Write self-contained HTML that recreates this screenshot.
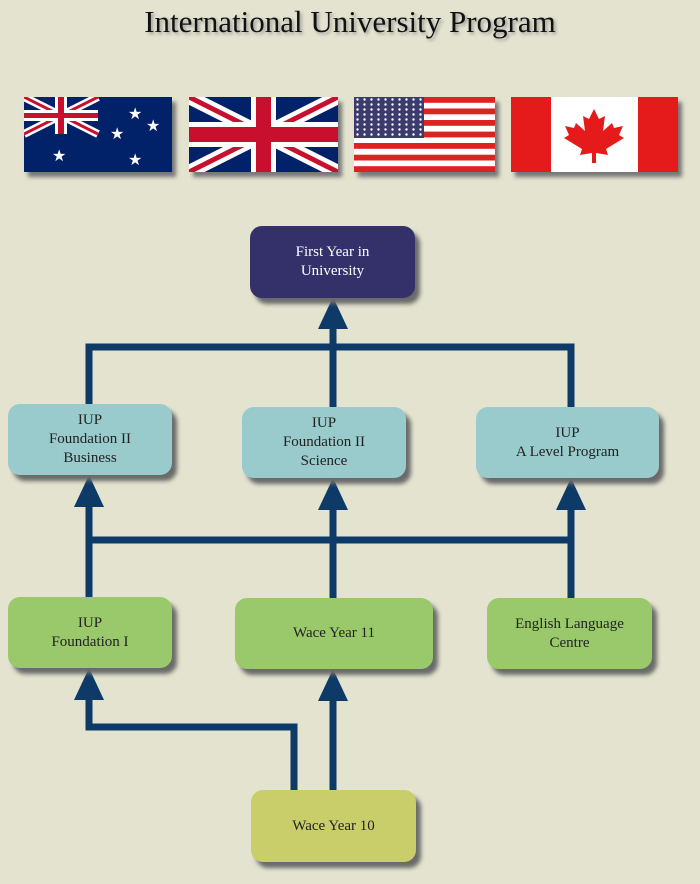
<!DOCTYPE html>
<html><head><style>
body{margin:0;width:700px;height:884px;background:#e3e3cf;overflow:hidden;position:relative;font-family:"Liberation Serif",serif;}
.t{position:absolute;left:0;width:700px;top:4px;text-align:center;font-size:31px;color:#111;text-shadow:2px 2px 3px #999;}
.b{position:absolute;border-radius:12px;display:flex;align-items:center;justify-content:center;text-align:center;font-size:15px;line-height:19px;color:#222;box-shadow:5px 6px 4px #6a6a6a;}
.f{position:absolute;top:97px;height:75px;box-shadow:4px 5px 4px #777;overflow:hidden;}
</style></head><body>
<div class="t">International University Program</div>
<svg class="f" style="left:24px;width:148px" viewBox="0 0 148 75"><rect width="148" height="75" fill="#012169"/>
<g stroke="#fff" stroke-width="8"><line x1="0" y1="0" x2="74" y2="37"/><line x1="74" y1="0" x2="0" y2="37"/></g>
<g stroke="#c8102e" stroke-width="3"><line x1="0" y1="0" x2="74" y2="37"/><line x1="74" y1="0" x2="0" y2="37"/></g>
<rect x="31" y="0" width="12" height="37" fill="#fff"/><rect x="0" y="13" width="74" height="11" fill="#fff"/>
<rect x="34" y="0" width="6" height="37" fill="#c8102e"/><rect x="0" y="16" width="74" height="5" fill="#c8102e"/>
<g fill="#fff" font-size="16"><text x="28" y="64">★</text><text x="104" y="68">★</text><text x="86" y="42">★</text><text x="104" y="22">★</text><text x="122" y="34">★</text></g></svg>
<svg class="f" style="left:189px;width:149px" viewBox="0 0 149 75"><rect width="149" height="75" fill="#012169"/>
<g stroke="#fff" stroke-width="14"><line x1="0" y1="0" x2="149" y2="75"/><line x1="149" y1="0" x2="0" y2="75"/></g>
<g stroke="#c8102e" stroke-width="5"><line x1="0" y1="0" x2="149" y2="75"/><line x1="149" y1="0" x2="0" y2="75"/></g>
<rect x="62" width="25" height="75" fill="#fff"/><rect y="25" width="149" height="25" fill="#fff"/>
<rect x="67" width="15" height="75" fill="#c8102e"/><rect y="30" width="149" height="15" fill="#c8102e"/></svg>
<svg class="f" style="left:354px;width:141px" viewBox="0 0 141 75"><defs><pattern id="st" width="7" height="5" patternUnits="userSpaceOnUse"><circle cx="3.5" cy="2.5" r="1.2" fill="#fff"/></pattern></defs><rect width="141" height="75" fill="#fff"/>
<g fill="#d22"><rect y="0" width="141" height="5.8"/><rect y="11.5" width="141" height="5.8"/><rect y="23" width="141" height="5.8"/><rect y="34.6" width="141" height="5.8"/><rect y="46" width="141" height="5.8"/><rect y="57.7" width="141" height="5.8"/><rect y="69.2" width="141" height="5.8"/></g>
<rect width="70" height="41" fill="#3c3b6e"/><rect width="70" height="41" fill="url(#st)"/></svg>
<svg class="f" style="left:511px;width:167px" viewBox="0 0 167 75"><rect width="167" height="75" fill="#fff"/>
<rect width="40" height="75" fill="#e51b1b"/><rect x="127" width="40" height="75" fill="#e51b1b"/>
<path d="M83 12 L88 22 L94 19 L92 34 L101 26 L103 31 L112 29 L108 38 L113 41 L95 52 L97 58 L85 56 L85 66 L81 66 L81 56 L69 58 L71 52 L53 41 L58 38 L54 29 L63 31 L65 26 L74 34 L72 19 L78 22 Z" fill="#e51b1b"/></svg>
<svg style="position:absolute;left:0;top:0" width="700" height="884">
<g fill="none" stroke="#0d3a66" stroke-width="7">
<polyline points="89,404 89,347 571,347 571,407"/><line x1="333" y1="407" x2="333" y2="320"/>
<line x1="89" y1="540" x2="571" y2="540"/><line x1="89" y1="597" x2="89" y2="500"/><line x1="333" y1="598" x2="333" y2="500"/><line x1="571" y1="598" x2="571" y2="500"/>
<line x1="333" y1="790" x2="333" y2="695"/><polyline points="294,790 294,727 89,727 89,695"/>
</g>
<g fill="#0d3a66">
<polygon points="333,297 318,329 348,329"/><polygon points="89,475 74,507 104,507"/><polygon points="333,478 318,510 348,510"/><polygon points="571,478 556,510 586,510"/>
<polygon points="89,668 74,700 104,700"/><polygon points="333,669 318,701 348,701"/>
</g></svg>
<div class="b" style="left:250px;top:226px;width:165px;height:72px;background:#33306a;color:#fff">First Year in<br>University</div>
<div class="b" style="left:8px;top:404px;width:164px;height:71px;background:#9acbcc">IUP<br>Foundation II<br>Business</div>
<div class="b" style="left:242px;top:407px;width:164px;height:71px;background:#9acbcc">IUP<br>Foundation II<br>Science</div>
<div class="b" style="left:476px;top:407px;width:183px;height:71px;background:#9acbcc">IUP<br>A Level Program</div>
<div class="b" style="left:8px;top:597px;width:164px;height:71px;background:#99c96a">IUP<br>Foundation I</div>
<div class="b" style="left:235px;top:598px;width:198px;height:71px;background:#99c96a">Wace Year 11</div>
<div class="b" style="left:487px;top:598px;width:165px;height:71px;background:#99c96a">English Language<br>Centre</div>
<div class="b" style="left:251px;top:790px;width:165px;height:72px;background:#c9cd6a">Wace Year 10</div>
</body></html>
